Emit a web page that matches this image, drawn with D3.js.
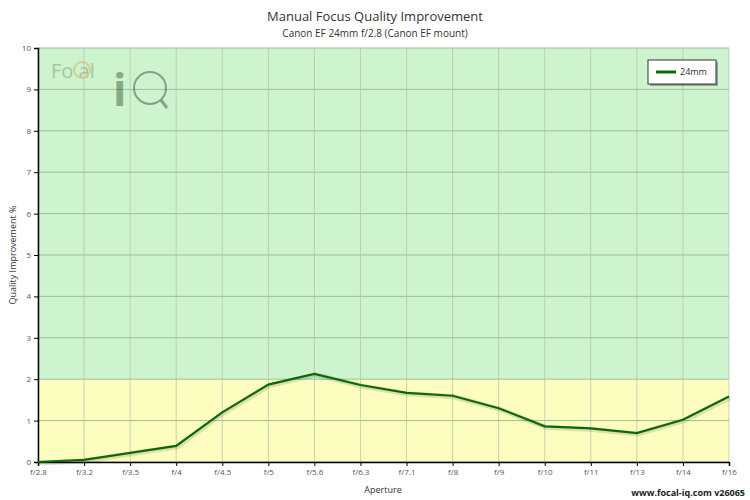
<html>
<script src="https://d3js.org/d3.v7.min.js"></script>
<style>
    body {margin: 0; background: white;}
    text {font-family: "Open Sans", sans-serif; fill: #333;}
</style>
<body>
<svg id="chart" width="750" height="500"></svg>
<script>
var apertures = ["f/2.8", "f/3.2", "f/3.5", "f/4", "f/4.5", "f/5", "f/5.6", "f/6.3", "f/7.1", "f/8", "f/9", "f/10", "f/11", "f/13", "f/14", "f/16"];
var improvement = [0.0, 0.05, 0.22, 0.39, 1.2, 1.87, 2.13, 1.86, 1.67, 1.6, 1.3, 0.86, 0.81, 0.7, 1.02, 1.58];
var yTicks = [0, 1, 2, 3, 4, 5, 6, 7, 8, 9, 10];
var seriesName = "24mm";

var pLeft = 38, pRight = 729, pTop = 48, pBottom = 462;
var svg = d3.select("#chart");

var x = d3.scalePoint().domain(apertures).range([pLeft, pRight]);
var y = d3.scaleLinear().domain([0, 10]).range([pBottom, pTop]);

// bands
svg.append("rect").attr("x", pLeft).attr("y", y(10)).attr("width", pRight - pLeft)
    .attr("height", y(2) - y(10)).attr("fill", "#cef3cf");
svg.append("rect").attr("x", pLeft).attr("y", y(2)).attr("width", pRight - pLeft)
    .attr("height", y(0) - y(2)).attr("fill", "#fefdc0");

// grid
svg.selectAll(".hg").data(yTicks).enter().append("line")
    .attr("x1", pLeft).attr("x2", pRight)
    .attr("y1", function(d) { return y(d); }).attr("y2", function(d) { return y(d); })
    .attr("stroke", "#9cbf9c").attr("stroke-width", 1);
svg.selectAll(".vg").data(apertures).enter().append("line")
    .attr("x1", function(d) { return x(d); }).attr("x2", function(d) { return x(d); })
    .attr("y1", pTop).attr("y2", pBottom)
    .attr("stroke", "#a9c4a9").attr("stroke-width", 0.7);

// logo watermark
var logo = svg.append("g").attr("opacity", 0.45);
logo.append("text").attr("x", 51).attr("y", 78).style("font-size", "20px")
    .style("fill", "#6f8f6f").text("Fo   al");
logo.append("circle").attr("cx", 82).attr("cy", 70).attr("r", 8)
    .attr("fill", "none").attr("stroke", "#e0a040").attr("stroke-width", 2);
logo.append("text").attr("x", 113).attr("y", 106).style("font-size", "44px")
    .style("font-weight", "bold").style("fill", "#305030").text("i");
logo.append("circle").attr("cx", 150).attr("cy", 88).attr("r", 16)
    .attr("fill", "none").attr("stroke", "#304030").attr("stroke-width", 2);
logo.append("line").attr("x1", 161).attr("y1", 100).attr("x2", 167).attr("y2", 108)
    .attr("stroke", "#304030").attr("stroke-width", 3);

// axes
var yAxis = svg.append("g").attr("transform", "translate(" + pLeft + ",0)")
    .call(d3.axisLeft(y).tickValues(yTicks).tickSize(4));
var xAxis = svg.append("g").attr("transform", "translate(0," + pBottom + ")")
    .call(d3.axisBottom(x).tickSize(4));
[yAxis, xAxis].forEach(function(a) {
    a.select(".domain").attr("stroke", "#000").attr("stroke-width", 1.5);
    a.selectAll("text").style("font-size", "8px").style("fill", "#555")
        .style("font-family", "'Open Sans', sans-serif");
});

// line
var line = d3.line().x(function(d, i) { return x(apertures[i]); }).y(function(d) { return y(d); });
svg.append("path").datum(improvement).attr("d", line).attr("fill", "none")
    .attr("stroke", "#000").attr("stroke-opacity", 0.12).attr("stroke-width", 5)
    .attr("transform", "translate(1,1)");
svg.append("path").datum(improvement).attr("d", line).attr("fill", "none")
    .attr("stroke", "#0a6a0a").attr("stroke-width", 2.2);

// titles
svg.append("text").attr("x", 375).attr("y", 21).attr("text-anchor", "middle")
    .style("font-size", "13px").text("Manual Focus Quality Improvement");
svg.append("text").attr("x", 375).attr("y", 37).attr("text-anchor", "middle")
    .style("font-size", "10px").text("Canon EF 24mm f/2.8 (Canon EF mount)");
svg.append("text").attr("x", 383).attr("y", 493).attr("text-anchor", "middle")
    .style("font-size", "9px").text("Aperture");
svg.append("text").attr("transform", "translate(16,255) rotate(-90)").attr("text-anchor", "middle")
    .style("font-size", "9px").text("Quality Improvement %");
svg.append("text").attr("x", 745).attr("y", 496).attr("text-anchor", "end")
    .style("font-size", "9px").style("font-weight", "bold").style("fill", "#222")
    .text("www.focal-iq.com  v26065");

// legend
var lg = svg.append("g");
lg.append("rect").attr("x", 650).attr("y", 62).attr("width", 68).attr("height", 24)
    .attr("fill", "#555").attr("opacity", 0.5);
lg.append("rect").attr("x", 648).attr("y", 60).attr("width", 68).attr("height", 24)
    .attr("fill", "white").attr("stroke", "#333");
lg.append("line").attr("x1", 656).attr("x2", 676).attr("y1", 72).attr("y2", 72)
    .attr("stroke", "#0a6a0a").attr("stroke-width", 3);
lg.append("text").attr("x", 680).attr("y", 75).style("font-size", "9px").text(seriesName);
</script>
</body>
</html>
